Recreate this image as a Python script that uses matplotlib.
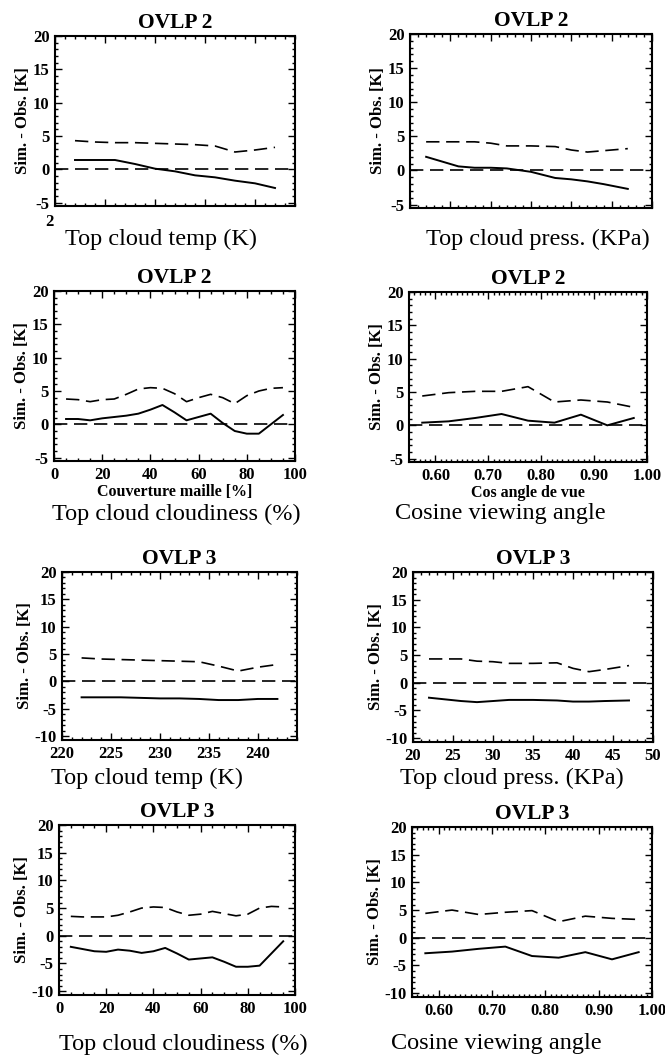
import numpy as np
import matplotlib
matplotlib.use('Agg')
import matplotlib.pyplot as plt
from matplotlib.ticker import MultipleLocator

plt.rcParams['font.family'] = ['Liberation Serif', 'DejaVu Serif']
plt.rcParams['axes.unicode_minus'] = False

# --- data ---
# x axes
temp_x = [222, 224, 226, 228, 230, 232, 234, 236, 238, 240, 242]
press_x = [22, 24, 26, 28, 30, 32, 35, 38, 40, 42, 44, 47]
cloud_x = [5, 10, 15, 20, 25, 30, 35, 40, 45, 50, 55, 60, 65, 70, 75, 80, 85, 90, 95]
cos_x = [0.575, 0.625, 0.675, 0.725, 0.775, 0.825, 0.875, 0.925, 0.975]

# OVLP 2 : mean bias (solid) and std dev (dashed)
o2_temp_bias = [1.4, 1.4, 1.4, 0.8, 0.1, -0.3, -0.9, -1.2, -1.7, -2.1, -2.8]
o2_temp_std = [4.3, 4.1, 4.0, 4.0, 3.9, 3.8, 3.7, 3.5, 2.6, 2.9, 3.3]
o2_press_bias = [2.0, 1.3, 0.6, 0.4, 0.4, 0.3, -0.2, -1.1, -1.3, -1.6, -2.0, -2.7]
o2_press_std = [4.2, 4.2, 4.2, 4.2, 4.0, 3.6, 3.6, 3.5, 3.0, 2.7, 2.9, 3.2]
o2_cloud_bias = [0.8, 0.8, 0.6, 0.9, 1.1, 1.3, 1.6, 2.2, 2.9, 1.8, 0.6, 1.1, 1.6, 0.2,
                 -1.0, -1.4, -1.4, 0.0, 1.4]
o2_cloud_std = [3.8, 3.7, 3.4, 3.7, 3.8, 4.5, 5.3, 5.5, 5.4, 4.6, 3.4, 4.0, 4.5, 4.0,
                3.1, 4.3, 5.0, 5.4, 5.5]
o2_cos_bias = [0.4, 0.6, 1.1, 1.7, 0.7, 0.4, 1.6, 0.0, 1.1]
o2_cos_std = [4.4, 4.9, 5.1, 5.1, 5.8, 3.5, 3.8, 3.5, 2.7]

# OVLP 3
o3_temp_bias = [-2.9, -2.9, -2.9, -3.0, -3.1, -3.1, -3.2, -3.4, -3.4, -3.2, -3.2]
o3_temp_std = [4.3, 4.1, 4.0, 3.9, 3.8, 3.7, 3.6, 2.8, 1.9, 2.6, 3.1]
o3_press_bias = [-2.7, -3.0, -3.3, -3.5, -3.3, -3.1, -3.1, -3.2, -3.4, -3.4, -3.3, -3.2]
o3_press_std = [4.3, 4.3, 4.3, 3.9, 3.8, 3.5, 3.5, 3.6, 2.6, 2.0, 2.4, 3.1]
o3_cloud_bias = [-2.0, -2.4, -2.8, -2.9, -2.5, -2.7, -3.1, -2.8, -2.2, -3.2, -4.3, -4.1,
                 -3.9, -4.7, -5.6, -5.6, -5.4, -3.2, -1.0]
o3_cloud_std = [3.5, 3.4, 3.4, 3.4, 3.7, 4.3, 5.0, 5.2, 5.1, 4.3, 3.7, 3.9, 4.4, 4.0,
                3.6, 3.9, 5.0, 5.3, 5.2]
o3_cos_bias = [-2.8, -2.5, -2.0, -1.6, -3.3, -3.6, -2.6, -3.9, -2.6]
o3_cos_std = [4.4, 5.0, 4.2, 4.6, 4.9, 2.9, 3.9, 3.5, 3.3]

W, H = 665, 1061
fig = plt.figure(figsize=(W / 100, H / 100), dpi=100)


def add_panel(box, x, bias, std, title, xlim, ylim, yticks, xmajor, xminor,
              xlabels=None, xlabel=None):
    l, t, r, b = box
    ax = fig.add_axes([l / W, 1 - b / H, (r - l) / W, (b - t) / H])
    ax.axhline(0, color='black', lw=1.2, dashes=[8, 4])
    ax.plot(x, std, color='black', lw=1.2, dashes=[8, 4])
    ax.plot(x, bias, color='black', lw=1.4)
    ax.set_xlim(*xlim)
    ax.set_ylim(*ylim)
    ax.set_yticks(yticks)
    ax.yaxis.set_minor_locator(MultipleLocator(1))
    ax.xaxis.set_major_locator(MultipleLocator(xmajor))
    ax.xaxis.set_minor_locator(MultipleLocator(xminor))
    ax.tick_params(which='both', direction='in', top=True, right=True, width=1.0)
    ax.tick_params(which='major', length=5, pad=4)
    ax.tick_params(which='minor', length=2.5)
    for s in ax.spines.values():
        s.set_linewidth(1.5)
    if xlabels is None:
        ax.tick_params(labelbottom=False)
    else:
        ax.set_xticks(xlabels)
        ax.set_xticklabels(['%s' % v if not isinstance(v, float) else '%.2f' % v
                            for v in xlabels])
    for lab in ax.get_xticklabels() + ax.get_yticklabels():
        lab.set_fontweight('bold')
        lab.set_fontsize(12)
    ax.set_ylabel('Sim. - Obs. [K]', fontsize=12, fontweight='bold', labelpad=1)
    ax.set_title(title, fontsize=15.5, fontweight='bold', pad=6)
    if xlabel:
        ax.set_xlabel(xlabel, fontsize=11.5, fontweight='bold', labelpad=1)
    return ax


y_small = [-5, 0, 5, 10, 15, 20]
y_big = [-10, -5, 0, 5, 10, 15, 20]

add_panel((55, 36, 295, 206), temp_x, o2_temp_bias, o2_temp_std, 'OVLP 2',
          (220, 244), (-5.5, 20), y_small, 5, 1)
add_panel((410, 34, 652, 208), press_x, o2_press_bias, o2_press_std, 'OVLP 2',
          (20, 50), (-5.5, 20), y_small, 5, 1)
add_panel((54, 291, 295, 461), cloud_x, o2_cloud_bias, o2_cloud_std, 'OVLP 2',
          (0, 100), (-5.5, 20), y_small, 20, 5,
          xlabels=[0, 20, 40, 60, 80, 100], xlabel='Couverture maille [%]')
add_panel((409, 292, 647, 462), cos_x, o2_cos_bias, o2_cos_std, 'OVLP 2',
          (0.55, 1.0), (-5.5, 20), y_small, 0.1, 0.01,
          xlabels=[0.6, 0.7, 0.8, 0.9, 1.0], xlabel='Cos angle de vue')
add_panel((62, 572, 297, 740), temp_x, o3_temp_bias, o3_temp_std, 'OVLP 3',
          (220, 244), (-10.7, 20), y_big, 5, 1,
          xlabels=[220, 225, 230, 235, 240])
add_panel((413, 572, 653, 742), press_x, o3_press_bias, o3_press_std, 'OVLP 3',
          (20, 50), (-10.7, 20), y_big, 5, 1,
          xlabels=[20, 25, 30, 35, 40, 45, 50])
add_panel((59, 825, 295, 995), cloud_x, o3_cloud_bias, o3_cloud_std, 'OVLP 3',
          (0, 100), (-10.7, 20), y_big, 20, 5,
          xlabels=[0, 20, 40, 60, 80, 100])
add_panel((412, 827, 652, 997), cos_x, o3_cos_bias, o3_cos_std, 'OVLP 3',
          (0.55, 1.0), (-10.7, 20), y_big, 0.1, 0.01,
          xlabels=[0.6, 0.7, 0.8, 0.9, 1.0])

# captions under each panel
captions = [
    (161, 239, 'Top cloud temp (K)'),
    (538, 239, 'Top cloud press. (KPa)'),
    (176, 514, 'Top cloud cloudiness (%)'),
    (500, 514, 'Cosine viewing angle'),
    (147, 778, 'Top cloud temp (K)'),
    (512, 778, 'Top cloud press. (KPa)'),
    (183, 1044, 'Top cloud cloudiness (%)'),
    (496, 1043, 'Cosine viewing angle'),
]
for cx, cy, txt in captions:
    fig.text(cx / W, 1 - cy / H, txt, ha='center', va='center', fontsize=17.5)

fig.text(49 / W, 1 - 222 / H, '2', ha='center', va='center', fontsize=12,
         fontweight='bold')

fig.savefig('out.png', dpi=100)
